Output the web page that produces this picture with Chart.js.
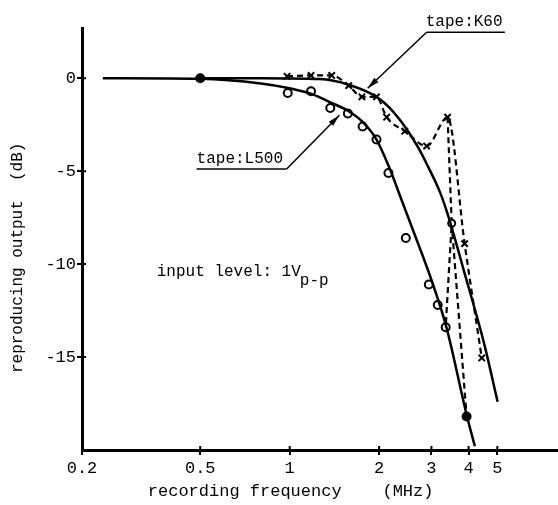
<!DOCTYPE html>
<html>
<head>
<meta charset="utf-8">
<script src="https://cdn.jsdelivr.net/npm/chart.js@4"></script>
<style>
  html, body { margin: 0; padding: 0; background: #fff; }
</style>
</head>
<body>
<canvas id="chart" width="558" height="505"></canvas>
<script>
// axis ticks
const xTicks = [0.2, 0.5, 1, 2, 3, 4, 5];
const yTicks = [0, -5, -10, -15];

// fitted response curves: [MHz, dB]
const l500Curve = [
    [0.235, 0], [0.5, -0.03], [0.8, -0.28], [1.0, -0.54], [1.2, -0.88], [1.37, -1.3],
    [1.57, -1.75], [1.76, -2.35], [1.96, -3.3], [2.15, -4.7], [2.4, -6.7], [2.59, -8.1],
    [3.0, -10.85], [3.37, -13.4], [3.94, -18.1], [4.2, -19.8]
];
const k60Curve = [
    [0.5, 0], [0.8, 0], [1.26, -0.05], [1.58, -0.35], [1.96, -1.0], [2.17, -1.6],
    [2.44, -2.6], [2.7, -3.7], [2.89, -4.6], [3.2, -6.1], [3.4, -7.3], [3.88, -10.5],
    [4.5, -14.2], [5.01, -17.4]
];

// measured points
const l500Points = [
    [0.5, 0], [0.985, -0.8], [1.18, -0.7], [1.37, -1.6], [1.57, -1.9], [1.76, -2.6],
    [1.96, -3.3], [2.15, -5.1], [2.46, -8.6], [2.94, -11.1], [3.15, -12.2],
    [3.35, -13.4], [3.94, -18.2]
];
const k60Points = [
    [0.98, 0.1], [1.18, 0.15], [1.385, 0.15], [1.58, -0.4], [1.75, -1.0], [1.96, -1.0],
    [2.12, -2.1], [2.44, -2.85], [2.89, -3.65], [3.4, -2.1], [3.88, -8.9], [4.43, -15.05]
];

// the extra dashed traces below the 3.4 MHz peak
const dashA = [[3.4, -2.1], [3.51, -7.8], [3.35, -13.4]];
const dashB = [[3.51, -7.8], [3.94, -18.2]];

const toXY = arr => arr.map(([x, y]) => ({ x, y }));
const FONT = '"Liberation Mono", "DejaVu Sans Mono", monospace';

const figureText = {
    id: 'figureText',
    afterDraw(chart) {
        const { ctx, chartArea, scales: { x, y } } = chart;
        const px = f => x.getPixelForValue(f);
        const py = v => y.getPixelForValue(v);

        const arrow = (x0, y0, x1, y1) => {
            ctx.beginPath();
            ctx.moveTo(x0, y0);
            ctx.lineTo(x1, y1);
            ctx.stroke();
            const a = Math.atan2(y1 - y0, x1 - x0);
            ctx.beginPath();
            ctx.moveTo(x1, y1);
            ctx.lineTo(x1 - 12 * Math.cos(a) + 3 * Math.sin(a), y1 - 12 * Math.sin(a) - 3 * Math.cos(a));
            ctx.lineTo(x1 - 12 * Math.cos(a) - 3 * Math.sin(a), y1 - 12 * Math.sin(a) + 3 * Math.cos(a));
            ctx.closePath();
            ctx.fill();
        };

        ctx.save();
        ctx.strokeStyle = '#000';
        ctx.fillStyle = '#000';

        // ticks cross the axis lines
        ctx.lineWidth = 2;
        ctx.beginPath();
        yTicks.forEach(v => {
            ctx.moveTo(chartArea.left, py(v));
            ctx.lineTo(chartArea.left + 4, py(v));
        });
        xTicks.slice(1).forEach(f => {
            ctx.moveTo(px(f), chartArea.bottom);
            ctx.lineTo(px(f), chartArea.bottom - 4);
        });
        ctx.stroke();

        ctx.textBaseline = 'alphabetic';
        ctx.textAlign = 'left';

        // axis titles
        ctx.font = '17px ' + FONT;
        ctx.fillText('recording frequency    (MHz)', px(0.333), chartArea.bottom + 46);
        ctx.save();
        ctx.font = '16px ' + FONT;
        ctx.translate(chartArea.left - 60, py(-15.86));
        ctx.rotate(-Math.PI / 2);
        ctx.fillText('reproducing output  (dB)', 0, 0);
        ctx.restore();

        // labels
        ctx.font = '16px ' + FONT;
        ctx.lineWidth = 1.5;

        ctx.fillText('tape:K60', px(2.87), py(2.8));
        ctx.beginPath();
        ctx.moveTo(px(2.89), py(2.47));
        ctx.lineTo(px(5.3), py(2.47));
        ctx.stroke();
        arrow(px(2.89), py(2.47), px(1.83), py(-0.54));

        ctx.fillText('tape:L500', px(0.486), py(-4.57));
        ctx.beginPath();
        ctx.moveTo(px(0.486), py(-4.89));
        ctx.lineTo(px(0.977), py(-4.89));
        ctx.stroke();
        arrow(px(0.977), py(-4.89), px(1.47), py(-1.99));

        const main = 'input level: 1V';
        ctx.fillText(main, px(0.357), py(-10.65));
        ctx.fillText('p-p', px(0.357) + ctx.measureText(main).width - 1, py(-11.13));

        ctx.restore();
    }
};

const curveStyle = {
    showLine: true,
    borderColor: '#000',
    borderWidth: 2.5,
    pointRadius: 0,
    cubicInterpolationMode: 'monotone'
};

new Chart(document.getElementById('chart'), {
    type: 'scatter',
    data: {
        datasets: [
            { label: 'L500 fit', data: toXY(l500Curve), ...curveStyle },
            { label: 'K60 fit', data: toXY(k60Curve), ...curveStyle },
            {
                label: 'K60 measured',
                data: toXY(k60Points),
                showLine: true,
                borderColor: '#000',
                borderWidth: 2.2,
                borderDash: [6, 4],
                cubicInterpolationMode: 'monotone',
                pointStyle: 'crossRot',
                pointRadius: 4.5,
                pointBorderWidth: 2,
                pointBorderColor: '#000'
            },
            {
                label: 'dashed A',
                data: toXY(dashA),
                showLine: true,
                borderColor: '#000',
                borderWidth: 2.2,
                borderDash: [6, 4],
                pointRadius: ctx => (ctx.dataIndex === 1 ? 3.5 : 0),
                pointBorderWidth: 2,
                pointBorderColor: '#000',
                pointBackgroundColor: '#fff'
            },
            {
                label: 'dashed B',
                data: toXY(dashB),
                showLine: true,
                borderColor: '#000',
                borderWidth: 2.2,
                borderDash: [6, 4],
                pointRadius: 0
            },
            {
                label: 'L500 measured',
                data: toXY(l500Points),
                pointStyle: 'circle',
                pointRadius: 4,
                pointBorderWidth: 2,
                pointBorderColor: '#000',
                pointBackgroundColor: ctx =>
                    (ctx.dataIndex === 0 || ctx.dataIndex === l500Points.length - 1) ? '#000' : '#fff'
            }
        ]
    },
    options: {
        responsive: false,
        animation: false,
        layout: { autoPadding: false, padding: { top: 28, left: 0, right: 0, bottom: 0 } },
        plugins: { legend: { display: false }, tooltip: { enabled: false } },
        scales: {
            x: {
                type: 'logarithmic',
                min: 0.2,
                max: 8,
                afterBuildTicks: s => { s.ticks = xTicks.map(v => ({ value: v })); },
                afterFit: s => { s.height = 55; },
                ticks: {
                    autoSkip: false,
                    maxRotation: 0,
                    padding: 3,
                    color: '#000',
                    font: { family: FONT, size: 17 },
                    callback: v => String(v)
                },
                grid: { drawOnChartArea: false, tickLength: 5, color: '#000', lineWidth: 2 },
                border: { color: '#000', width: 3 }
            },
            y: {
                min: -20,
                max: 2.7,
                afterBuildTicks: s => { s.ticks = yTicks.map(v => ({ value: v })); },
                afterFit: s => { s.width = 82; },
                ticks: {
                    padding: 1,
                    color: '#000',
                    font: { family: FONT, size: 17 },
                    callback: v => String(v)
                },
                grid: { drawOnChartArea: false, tickLength: 5, color: '#000', lineWidth: 2 },
                border: { color: '#000', width: 3 }
            }
        }
    },
    plugins: [figureText]
});
</script>
</body>
</html>
